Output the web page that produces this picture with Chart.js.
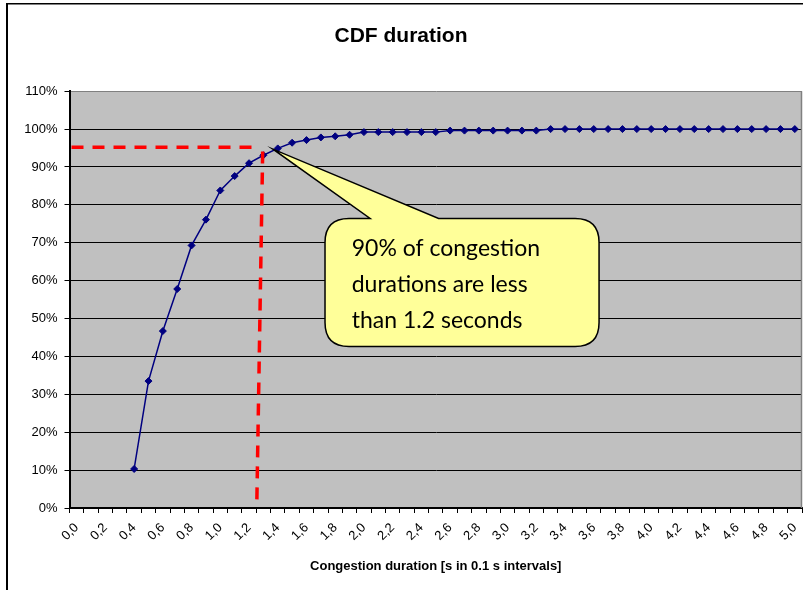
<!DOCTYPE html>
<html>
<head>
<meta charset="utf-8">
<title>CDF duration</title>
<script src="https://cdn.jsdelivr.net/npm/chart.js@4/dist/chart.umd.min.js"></script>
<style>
  html, body { margin: 0; padding: 0; background: #fff; }
  #wrap { position: relative; width: 803px; height: 590px; }
  canvas { display: block; }
</style>
</head>
<body>
<div id="wrap"><canvas id="cdf" width="803" height="590"></canvas></div>
<script>
// Congestion duration categories (seconds, 0.1 s steps)
const durationLabels = [
  '0,0','0,1','0,2','0,3','0,4','0,5','0,6','0,7','0,8','0,9',
  '1,0','1,1','1,2','1,3','1,4','1,5','1,6','1,7','1,8','1,9',
  '2,0','2,1','2,2','2,3','2,4','2,5','2,6','2,7','2,8','2,9',
  '3,0','3,1','3,2','3,3','3,4','3,5','3,6','3,7','3,8','3,9',
  '4,0','4,1','4,2','4,3','4,4','4,5','4,6','4,7','4,8','4,9',
  '5,0'
];

// Cumulative share of congestion events (%)
const cdfPercent = [
  null, null, null, null, 10.3, 33.5, 46.7, 57.8, 69.3, 76.1,
  83.8, 87.6, 91.0, 93.1, 94.9, 96.4, 97.1, 97.8, 98.1, 98.5,
  99.2, 99.2, 99.2, 99.2, 99.2, 99.2, 99.6, 99.6, 99.6, 99.6,
  99.6, 99.6, 99.6, 100, 100, 100, 100, 100, 100, 100,
  100, 100, 100, 100, 100, 100, 100, 100, 100, 100,
  100
];

// Y axis range and step (%)
const yTicks = { min: 0, max: 110, step: 10 };

// Reference guide lines, in axis units (category index, %)
const guideHorizontal = { toIndex: 12.72, value: 95.2 };
const guideVertical = { topIndex: 12.95, topValue: 94.1, bottomIndex: 12.54, bottomValue: 0.8 };

// Callout, in axis units
const calloutLines = ['90% of congestion', 'durations are less', 'than 1.2 seconds'];
const calloutBox = { left: 17.29, right: 36.37, top: 76.4, bottom: 42.6 };
const calloutWedge = { baseFrom: 20.43, baseTo: 25.2, tipIndex: 13.67, tipValue: 94.7 };

const AXIS_FONT = "'Liberation Sans', Arial, sans-serif";

const decorations = {
  id: 'decorations',
  beforeDraw(chart) {
    const { ctx, chartArea: a } = chart;
    ctx.save();
    ctx.fillStyle = '#fff';
    ctx.fillRect(0, 0, chart.width, chart.height);
    ctx.fillStyle = '#c0c0c0';
    ctx.fillRect(a.left, a.top, a.right - a.left, a.bottom - a.top);
    ctx.restore();
  },
  afterDraw(chart) {
    const { ctx, chartArea: a, scales: { x, y } } = chart;
    ctx.save();

    // plot area right edge
    ctx.strokeStyle = '#808080';
    ctx.lineWidth = 1.5;
    ctx.beginPath();
    ctx.moveTo(a.right - 0.5, a.top);
    ctx.lineTo(a.right - 0.5, a.bottom);
    ctx.stroke();

    // outer chart frame
    ctx.fillStyle = '#000';
    ctx.fillRect(6, 3, 2, chart.height - 3);
    ctx.fillRect(6, 3, chart.width - 6, 1.5);

    // red dashed guides
    ctx.strokeStyle = '#ff0000';
    ctx.lineWidth = 3.5;
    ctx.setLineDash([12, 9]);
    ctx.beginPath();
    ctx.moveTo(a.left + 2, y.getPixelForValue(guideHorizontal.value));
    ctx.lineTo(x.getPixelForValue(guideHorizontal.toIndex), y.getPixelForValue(guideHorizontal.value));
    ctx.stroke();
    ctx.beginPath();
    ctx.moveTo(x.getPixelForValue(guideVertical.topIndex), y.getPixelForValue(guideVertical.topValue));
    ctx.lineTo(x.getPixelForValue(guideVertical.bottomIndex), y.getPixelForValue(guideVertical.bottomValue));
    ctx.stroke();
    ctx.setLineDash([]);

    // callout balloon
    const L = x.getPixelForValue(calloutBox.left);
    const R = x.getPixelForValue(calloutBox.right);
    const T = y.getPixelForValue(calloutBox.top);
    const B = y.getPixelForValue(calloutBox.bottom);
    const w1 = x.getPixelForValue(calloutWedge.baseFrom);
    const w2 = x.getPixelForValue(calloutWedge.baseTo);
    const tx = x.getPixelForValue(calloutWedge.tipIndex);
    const ty = y.getPixelForValue(calloutWedge.tipValue);
    const r = 24;
    ctx.beginPath();
    ctx.moveTo(L + r, T);
    ctx.lineTo(w1, T);
    ctx.lineTo(tx, ty);
    ctx.lineTo(w2, T);
    ctx.lineTo(R - r, T);
    ctx.quadraticCurveTo(R, T, R, T + r);
    ctx.lineTo(R, B - r);
    ctx.quadraticCurveTo(R, B, R - r, B);
    ctx.lineTo(L + r, B);
    ctx.quadraticCurveTo(L, B, L, B - r);
    ctx.lineTo(L, T + r);
    ctx.quadraticCurveTo(L, T, L + r, T);
    ctx.closePath();
    ctx.fillStyle = '#ffff99';
    ctx.fill();
    ctx.strokeStyle = '#000';
    ctx.lineWidth = 1.5;
    ctx.stroke();

    ctx.fillStyle = '#000';
    ctx.font = "23px Lato, 'Open Sans', sans-serif";
    ctx.textAlign = 'left';
    ctx.textBaseline = 'alphabetic';
    calloutLines.forEach((line, i) => {
      ctx.fillText(line, L + 26.7, T + 37.4 + i * 36);
    });
    ctx.restore();
  }
};

new Chart(document.getElementById('cdf'), {
  type: 'line',
  data: {
    labels: durationLabels,
    datasets: [{
      data: cdfPercent,
      borderColor: '#000080',
      backgroundColor: '#000080',
      borderWidth: 1.5,
      pointStyle: 'rectRot',
      pointRadius: 3.5,
      pointBorderWidth: 1,
      tension: 0,
      spanGaps: false
    }]
  },
  options: {
    responsive: false,
    animation: false,
    devicePixelRatio: 1,
    layout: { autoPadding: false, padding: { left: 0, right: 1, top: 0, bottom: 0 } },
    plugins: {
      legend: { display: false },
      tooltip: { enabled: false },
      title: {
        display: true,
        text: 'CDF duration',
        color: '#000',
        font: { family: AXIS_FONT, size: 21, weight: 'bold' },
        padding: { top: 24, bottom: 42 }
      }
    },
    scales: {
      x: {
        type: 'category',
        offset: true,
        grid: {
          offset: true,
          drawOnChartArea: false,
          drawTicks: true,
          tickLength: 5,
          color: '#000',
          lineWidth: 1
        },
        border: { color: '#000', width: 2 },
        ticks: {
          autoSkip: false,
          maxRotation: 45,
          minRotation: 45,
          padding: 7,
          color: '#000',
          font: { family: AXIS_FONT, size: 13 },
          callback: function (value, index) {
            return index % 2 === 0 ? this.getLabelForValue(value) : '';
          }
        },
        title: {
          display: true,
          text: 'Congestion duration [s in 0.1 s intervals]',
          color: '#000',
          font: { family: AXIS_FONT, size: 13, weight: 'bold' },
          padding: { top: 0, bottom: 16 }
        },
        afterFit(scale) {
          scale.height = 82;
          scale.paddingLeft = 0;
          scale.paddingRight = 0;
        }
      },
      y: {
        min: yTicks.min,
        max: yTicks.max,
        grid: {
          color: (ctx) => (ctx.tick && ctx.tick.value === yTicks.max ? '#808080' : '#000'),
          tickColor: '#000',
          tickLength: 5,
          lineWidth: 1
        },
        border: { color: '#000', width: 2 },
        ticks: {
          stepSize: yTicks.step,
          padding: 7,
          color: '#000',
          font: { family: AXIS_FONT, size: 13 },
          callback: (v) => v + '%'
        },
        afterFit(scale) { scale.width = 69.5; }
      }
    }
  },
  plugins: [decorations]
});
</script>
</body>
</html>
